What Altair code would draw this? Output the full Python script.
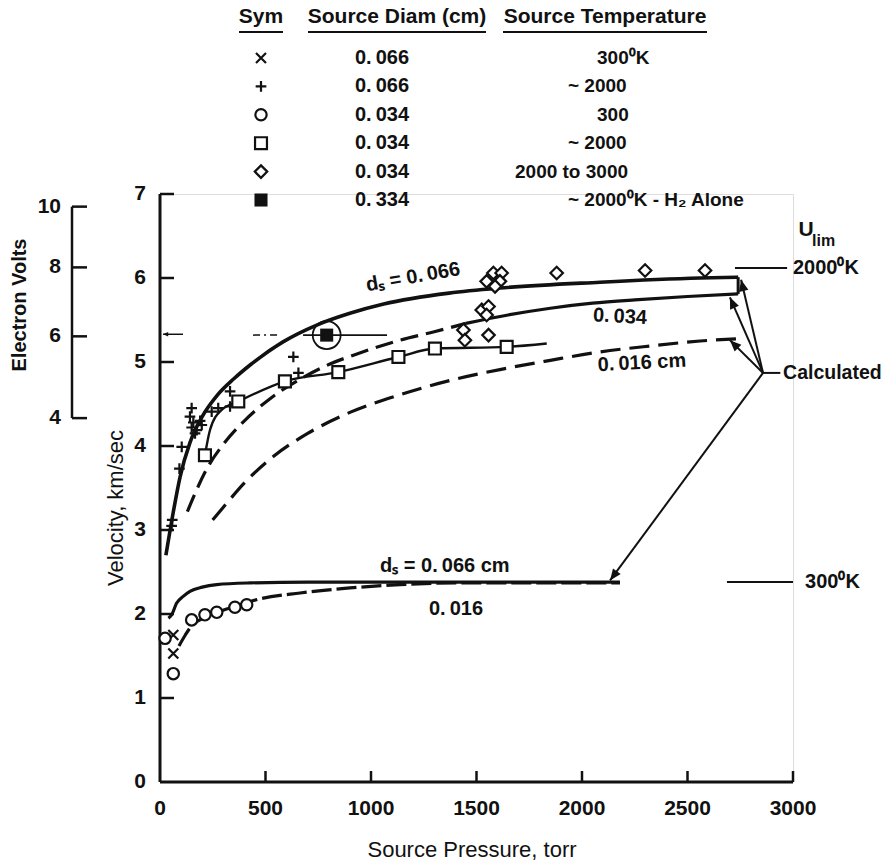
import math
import altair as alt
import pandas as pd

# ---- plot geometry ---------------------------------------------------------
W, H = 633, 588                      # plot area: 0-3000 torr by 0-7 km/sec
PAD = {"left": 160, "top": 194, "right": 95, "bottom": 86}
P_MAX, V_MAX = 3000, 7
FONT = "Liberation Sans, Arial, sans-serif"
INK = "#111111"
EV_K = 2.166                         # km/sec per sqrt(eV) for argon
TS = "\u2009"                        # thin space used in the decimal labels

# ---- calculated curves, 2000 K source (torr, km/sec) ------------------------
c066_p = [28, 62, 95, 142, 200, 270, 350, 430, 583, 743, 900, 1060, 1370, 1610, 2085, 2560, 2740]
c066_v = [2.70, 3.20, 3.63, 4.04, 4.35, 4.60, 4.80, 4.97, 5.24, 5.44, 5.58, 5.69, 5.82, 5.88, 5.95, 6.00, 6.01]

c034_p = [130, 160, 220, 300, 400, 520, 660, 800, 950, 1137, 1300, 1450, 1650, 1850, 2050, 2250, 2500, 2740]
c034_v = [3.22, 3.40, 3.72, 4.02, 4.30, 4.56, 4.79, 4.97, 5.11, 5.26, 5.36, 5.46, 5.56, 5.64, 5.70, 5.74, 5.78, 5.81]
C034_SPLIT = 11                      # dashed up to 1450 torr, solid beyond

c016_p = [250, 320, 400, 540, 700, 900, 1137, 1374, 1611, 1850, 2085, 2320, 2560, 2760]
c016_v = [3.12, 3.33, 3.56, 3.88, 4.15, 4.40, 4.61, 4.78, 4.91, 5.02, 5.12, 5.19, 5.25, 5.28]

# ---- calculated curves, 300 K source ----------------------------------------
l066_p = [40, 55, 79, 110, 142, 200, 269, 427, 700, 1200, 1700, 2180]
l066_v = [1.95, 1.99, 2.13, 2.21, 2.27, 2.32, 2.35, 2.37, 2.38, 2.38, 2.38, 2.38]
l016_p = [90, 120, 150, 213, 269, 355, 474, 664, 900, 1137, 1400, 1800, 2180]
l016_v = [1.62, 1.75, 1.86, 1.96, 2.02, 2.09, 2.18, 2.25, 2.31, 2.35, 2.37, 2.37, 2.37]

# ---- measurements -------------------------------------------------------------
x300_p = [63, 63]
x300_v = [1.53, 1.75]
plus_p = [55, 58, 92, 103, 142, 150, 150, 158, 166, 174, 190, 198, 245, 276, 332, 332, 632, 656]
plus_v = [3.05, 3.12, 3.73, 3.99, 4.35, 4.45, 4.22, 4.28, 4.15, 4.19, 4.30, 4.25, 4.41, 4.45, 4.47, 4.65, 5.06, 4.87]
circ_p = [24, 63, 150, 213, 269, 355, 411]
circ_v = [1.71, 1.29, 1.93, 1.99, 2.02, 2.08, 2.11]
sq_p = [213, 371, 592, 845, 1130, 1303, 1643]
sq_v = [3.89, 4.53, 4.77, 4.88, 5.06, 5.16, 5.18]
sqfit_p = [213, 237, 292, 371, 592, 845, 1130, 1303, 1643, 1833]
sqfit_v = [3.89, 4.19, 4.43, 4.53, 4.77, 4.88, 5.06, 5.16, 5.18, 5.22]
dia_p = [1548, 1580, 1619, 1611, 1588, 1880, 2299, 2583, 1525, 1557, 1548, 1438, 1445, 1557]
dia_v = [5.96, 6.06, 6.06, 5.96, 5.90, 6.06, 6.09, 6.09, 5.62, 5.66, 5.56, 5.38, 5.26, 5.32]
h2_p = [790]
h2_v = [5.32]

# ---- axis ticks ------------------------------------------------------------------
p_ticks = [0, 500, 1000, 1500, 2000, 2500, 3000]
v_ticks = [0, 1, 2, 3, 4, 5, 6, 7]
ev_ticks = [4, 6, 8, 10]

# ---- legend table ---------------------------------------------------------------
leg_series = ["x", "plus", "circle", "square", "diamond", "h2"]
leg_diam = ["0.066", "0.066", "0.034", "0.034", "0.034", "0.334"]
leg_temp = ["300\u2070K", "~ 2000", "300", "~ 2000", "2000 to 3000", "~ 2000\u2070K - H\u2082 Alone"]
leg_head = ["Sym", "Source Diam (cm)", "Source Temperature"]

# ---- "Calculated" pointers: hub and the curve ends they point at ---------------
hub = (2858, 4.87)
ptr_p = [2754, 2701, 2701, 2133]
ptr_v = [5.98, 5.77, 5.26, 2.40]

# ---- symbol shapes ----------------------------------------------------------------
X_PATH = "M-1,-1L1,1M1,-1L-1,1"
PLUS_PATH = "M-1,0L1,0M0,-1L0,1"
ARROW_PATH = "M0,0L-0.42,1L0.42,1Z"
shape_dom = ["x", "plus", "circle", "square", "diamond", "h2"]
shape_rng = [X_PATH, PLUS_PATH, "circle", "square", "diamond", "square"]
size_rng = [100, 170, 140, 115, 125, 100]

xs = alt.Scale(domain=[0, P_MAX], nice=False, zero=False)
ys = alt.Scale(domain=[0, V_MAX], nice=False, zero=False)


def X(field, **kw):
    return alt.X(field, type="quantitative", scale=xs, axis=None, **kw)


def Y(field, **kw):
    return alt.Y(field, type="quantitative", scale=ys, axis=None, **kw)


def PX(field):
    return alt.X(field, type="quantitative", scale=None, axis=None)


def PY(field):
    return alt.Y(field, type="quantitative", scale=None, axis=None)


def curve(p, v, width=3.0, dash=None):
    props = dict(color=INK, strokeWidth=width, interpolate="monotone", strokeCap="butt")
    if dash:
        props["strokeDash"] = dash
    return alt.Chart(pd.DataFrame({"p": p, "v": v})).mark_line(**props).encode(
        x=X("p"), y=Y("v"))


def label(text, p, v, size=20, weight="bold", align="center", angle=0):
    props = dict(font=FONT, fontSize=size, fontWeight=weight, color=INK,
                 align=align, baseline="middle")
    if angle:
        props["angle"] = angle
    return alt.Chart(pd.DataFrame({"p": [p], "v": [v], "t": [text]})).mark_text(**props).encode(
        x=X("p"), y=Y("v"), text="t:N")


def pixel_text(xs_px, ys_px, texts, size=20, weight="bold", align="left", angle=0):
    props = dict(font=FONT, fontSize=size, fontWeight=weight, color=INK,
                 align=align, baseline="middle")
    if angle:
        props["angle"] = angle
    df = pd.DataFrame({"x": xs_px, "y": ys_px, "t": texts})
    return alt.Chart(df).mark_text(**props).encode(x=PX("x"), y=PY("y"), text="t:N")


layers = []

# ---- axes: lines, inward ticks, labels, titles --------------------------------------
layers.append(
    alt.Chart(pd.DataFrame({"p": [0], "p2": [P_MAX], "v": [0]}))
    .mark_rule(color=INK, strokeWidth=3).encode(x=X("p"), x2="p2:Q", y=Y("v"))
)
layers.append(
    alt.Chart(pd.DataFrame({"p": [0], "v": [0], "v2": [V_MAX]}))
    .mark_rule(color=INK, strokeWidth=3).encode(x=X("p"), y=Y("v"), y2="v2:Q")
)
layers.append(
    alt.Chart(pd.DataFrame({"v": v_ticks[1:]}))
    .mark_rule(color=INK, strokeWidth=2.5)
    .encode(y=Y("v"), x=alt.value(0), x2=alt.value(14))
)
layers.append(
    alt.Chart(pd.DataFrame({"p": p_ticks[1:]}))
    .mark_rule(color=INK, strokeWidth=2.5)
    .encode(x=X("p"), y=alt.value(H), y2=alt.value(H - 11))
)
layers.append(
    alt.Chart(pd.DataFrame({"v": v_ticks}))
    .mark_text(font=FONT, fontSize=21, fontWeight="bold", color=INK, align="right", baseline="middle")
    .encode(y=Y("v"), x=alt.value(-14), text="v:N")
)
layers.append(
    alt.Chart(pd.DataFrame({"p": p_ticks}))
    .mark_text(font=FONT, fontSize=21, fontWeight="bold", color=INK, align="center", baseline="middle")
    .encode(x=X("p"), y=alt.value(H + 27), text="p:N")
)
layers.append(pixel_text([312], [H + 68], ["Source Pressure, torr"], size=22, weight="normal", align="center"))
layers.append(pixel_text([-44], [314], ["Velocity, km/sec"], size=22, weight="normal", align="center", angle=270))

# electron-volt scale, placed through the velocity scale
ev_df = pd.DataFrame({"ev": ev_ticks})
ev_calc = f"{EV_K} * sqrt(datum.ev)"
layers.append(
    alt.Chart(pd.DataFrame({"ev": [min(ev_ticks)], "ev2": [max(ev_ticks)]}))
    .transform_calculate(v=f"{EV_K} * sqrt(datum.ev)", v2=f"{EV_K} * sqrt(datum.ev2)")
    .mark_rule(color=INK, strokeWidth=2.5)
    .encode(x=alt.value(-88), y=Y("v"), y2="v2:Q")
)
layers.append(
    alt.Chart(ev_df).transform_calculate(v=ev_calc)
    .mark_rule(color=INK, strokeWidth=2.5)
    .encode(y=Y("v"), x=alt.value(-88), x2=alt.value(-73))
)
layers.append(
    alt.Chart(ev_df).transform_calculate(v=ev_calc)
    .mark_text(font=FONT, fontSize=21, fontWeight="bold", color=INK, align="right", baseline="middle")
    .encode(y=Y("v"), x=alt.value(-99), text="ev:N")
)
layers.append(pixel_text([-140], [111], ["Electron Volts"], size=20, align="center", angle=270))

# ---- calculated curves ------------------------------------------------------------
layers.append(curve(c066_p, c066_v, width=3.6))
layers.append(curve(c034_p[:C034_SPLIT + 1], c034_v[:C034_SPLIT + 1], width=3.2, dash=[18, 8]))
layers.append(curve(c034_p[C034_SPLIT:], c034_v[C034_SPLIT:], width=3.2))
layers.append(curve(c016_p, c016_v, width=3.2, dash=[20, 9]))
layers.append(curve(l066_p, l066_v, width=3.2))
layers.append(curve(l016_p, l016_v, width=3.2, dash=[20, 5]))

# box closing the 0.066 / 0.034 curve ends
layers.append(
    alt.Chart(pd.DataFrame({"p": [c066_p[-1]], "v": [c034_v[-1]], "v2": [c066_v[-1]]}))
    .mark_rule(color=INK, strokeWidth=3)
    .encode(x=X("p"), y=Y("v"), y2="v2:Q")
)

# line through the 0.034 cm / ~2000 K squares
layers.append(curve(sqfit_p, sqfit_v, width=2.4))

# ---- measured points -----------------------------------------------------------------
pts = pd.concat([
    pd.DataFrame({"p": x300_p, "v": x300_v, "s": "x"}),
    pd.DataFrame({"p": plus_p, "v": plus_v, "s": "plus"}),
    pd.DataFrame({"p": circ_p, "v": circ_v, "s": "circle"}),
    pd.DataFrame({"p": sq_p, "v": sq_v, "s": "square"}),
    pd.DataFrame({"p": dia_p, "v": dia_v, "s": "diamond"}),
], ignore_index=True)
shape_scale = alt.Scale(domain=shape_dom, range=shape_rng)
size_scale = alt.Scale(domain=shape_dom, range=size_rng)
layers.append(
    alt.Chart(pts).mark_point(filled=False, color=INK, strokeWidth=2.2, opacity=1, fill="white")
    .encode(x=X("p"), y=Y("v"),
            shape=alt.Shape("s:N", scale=shape_scale, legend=None),
            size=alt.Size("s:N", scale=size_scale, legend=None))
)

# H2-alone point with its pointer line and loop
layers.append(
    alt.Chart(pd.DataFrame({"p": [678], "p2": [1076], "v": h2_v}))
    .mark_rule(color=INK, strokeWidth=1.8).encode(x=X("p"), x2="p2:Q", y=Y("v"))
)
layers.append(
    alt.Chart(pd.DataFrame({"p": [441], "p2": [555], "v": h2_v}))
    .mark_rule(color=INK, strokeWidth=1.5, strokeDash=[7, 4, 2, 4])
    .encode(x=X("p"), x2="p2:Q", y=Y("v"))
)
layers.append(
    alt.Chart(pd.DataFrame({"p": [14], "p2": [109], "v": [5.33]}))
    .mark_rule(color=INK, strokeWidth=1.5).encode(x=X("p"), x2="p2:Q", y=Y("v"))
)
layers.append(
    alt.Chart(pd.DataFrame({"p": [14], "v": [5.33], "a": [270]}))
    .mark_point(shape=ARROW_PATH, size=110, filled=True, color=INK, opacity=1)
    .encode(x=X("p"), y=Y("v"), angle=alt.Angle("a:Q", scale=None))
)
layers.append(
    alt.Chart(pd.DataFrame({"p": h2_p, "v": h2_v}))
    .mark_point(shape="circle", size=780, filled=False, color=INK, strokeWidth=1.8, opacity=1)
    .encode(x=X("p"), y=Y("v"))
)
layers.append(
    alt.Chart(pd.DataFrame({"p": h2_p, "v": h2_v, "s": ["h2"]}))
    .mark_point(filled=True, color=INK, opacity=1)
    .encode(x=X("p"), y=Y("v"),
            shape=alt.Shape("s:N", scale=shape_scale, legend=None),
            size=alt.Size("s:N", scale=size_scale, legend=None))
)

# ---- curve labels ------------------------------------------------------------------
layers.append(label("d\u209b = 0." + TS + "066", 1199, 6.01, angle=350))
layers.append(label("0." + TS + "034", 2180, 5.54, angle=3))
layers.append(label("0." + TS + "016 cm", 2284, 4.99, angle=357))
layers.append(label("d\u209b = 0." + TS + "066 cm", 1043, 2.57, align="left"))
layers.append(label("0." + TS + "016", 1403, 2.06))

# ---- limiting-velocity markers ---------------------------------------------------------
layers.append(
    alt.Chart(pd.DataFrame({"p": [2725, 2687], "p2": [2972, 3000], "v": [6.12, 2.38]}))
    .mark_rule(color=INK, strokeWidth=2).encode(x=X("p"), x2="p2:Q", y=Y("v"))
)
layers.append(label("2000\u2070K", 3000, 6.12, align="left"))
layers.append(label("300\u2070K", 3057, 2.38, align="left"))
layers.append(label("U", 3062, 6.57, size=21))
layers.append(label("lim", 3090, 6.44, size=16, align="left"))

# ---- "Calculated" pointers -----------------------------------------------------------
sx, sy = W / P_MAX, H / V_MAX
ptr_rows = []
for i, (p, v) in enumerate(zip(ptr_p, ptr_v)):
    ptr_rows.append({"k": i, "o": 0, "p": hub[0], "v": hub[1]})
    ptr_rows.append({"k": i, "o": 1, "p": p, "v": v})
ptr_rows.append({"k": 9, "o": 0, "p": hub[0], "v": hub[1]})
ptr_rows.append({"k": 9, "o": 1, "p": 2940, "v": hub[1]})
layers.append(
    alt.Chart(pd.DataFrame(ptr_rows)).mark_line(color=INK, strokeWidth=2)
    .encode(x=X("p"), y=Y("v"), detail="k:N", order="o:Q")
)
heads = pd.DataFrame({
    "p": ptr_p, "v": ptr_v,
    "a": [math.degrees(math.atan2((p - hub[0]) * sx, (v - hub[1]) * sy)) % 360
          for p, v in zip(ptr_p, ptr_v)],
})
layers.append(
    alt.Chart(heads).mark_point(shape=ARROW_PATH, size=520, filled=True, color=INK, opacity=1)
    .encode(x=X("p"), y=Y("v"), angle=alt.Angle("a:Q", scale=None))
)
layers.append(label("Calculated", 2953, hub[1], size=19.5, align="left"))

# ---- legend table (pixel layout above the plot) --------------------------------------
row_y = [-136 + i * 28.4 for i in range(len(leg_series))]
temp_left = [437, 408, 437, 408, 355, 408]
layers.append(pixel_text([101, 237, 445], [-177] * 3, leg_head, size=21, align="center"))
layers.append(
    alt.Chart(pd.DataFrame({"x": [79, 148, 343], "x2": [123, 326, 547], "y": [-162] * 3}))
    .mark_rule(color=INK, strokeWidth=2)
    .encode(x=PX("x"), x2="x2:Q", y=PY("y"))
)
leg_df = pd.DataFrame({"s": leg_series, "y": row_y, "x": [101] * len(leg_series)})
layers.append(
    alt.Chart(leg_df[leg_df.s != "h2"]).mark_point(filled=False, color=INK, strokeWidth=2.2, opacity=1)
    .encode(x=PX("x"), y=PY("y"),
            shape=alt.Shape("s:N", scale=shape_scale, legend=None),
            size=alt.Size("s:N", scale=size_scale, legend=None))
)
layers.append(
    alt.Chart(leg_df[leg_df.s == "h2"]).mark_point(filled=True, color=INK, opacity=1)
    .encode(x=PX("x"), y=PY("y"),
            shape=alt.Shape("s:N", scale=shape_scale, legend=None),
            size=alt.Size("s:N", scale=size_scale, legend=None))
)
layers.append(pixel_text([195] * 6, row_y, [d.replace(".", "." + TS) for d in leg_diam], size=20))
layers.append(pixel_text(temp_left, row_y, leg_temp, size=19))

chart = (
    alt.layer(*layers)
    .properties(width=W, height=H, padding=PAD, autosize=alt.AutoSizeParams(type="none"))
    .configure_view(stroke=None)
    .configure(background="white")
)

chart.save("out.html", embed_options={"renderer": "svg", "actions": False})
